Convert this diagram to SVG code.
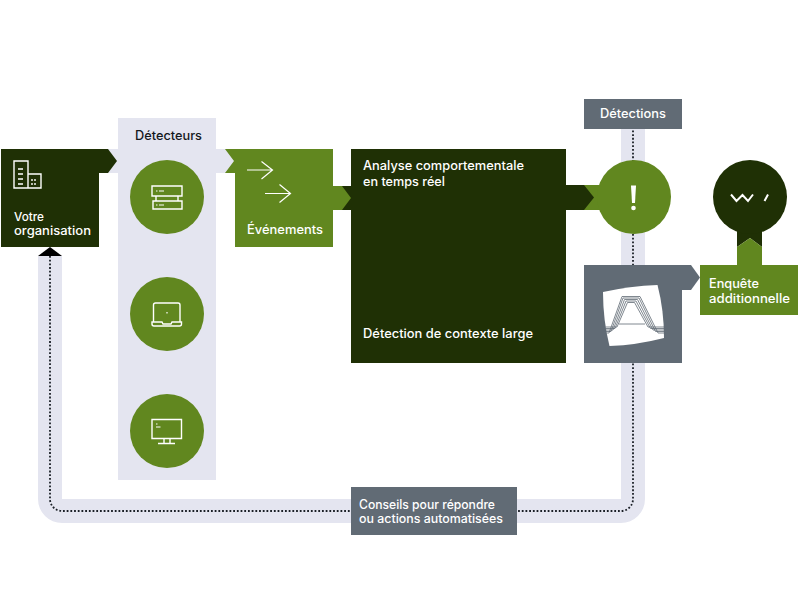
<svg xmlns="http://www.w3.org/2000/svg" width="800" height="603" viewBox="0 0 800 603">
<style>
.t{font-family:"Inter","Open Sans","Liberation Sans",sans-serif;font-weight:500;font-size:12.5px;fill:#fff}
.d{fill:#1f3005}.g{fill:#61871f}.s{fill:#616b75}.l{fill:#e4e5f0}
.i{fill:none;stroke:#fff;stroke-width:1.4}
.a{fill:none;stroke:#5f6973;stroke-width:.8}
.dot{fill:none;stroke:#1a1f26;stroke-width:1.8;stroke-dasharray:1.8 1.9}
</style>
<rect width="800" height="603" fill="#fff"/>
<g id="connectors">
<path class="l" d="M38 256H62V499H621V129H645V499A24 24 0 0 1 621 523H62A24 24 0 0 1 38 499Z"/>
<path class="dot" d="M50 256V499A12 12 0 0 0 62 511H621A12 12 0 0 0 633 499V129"/>
<path d="M50 247L62 256H38Z" fill="#000"/>
<rect class="l" x="108" y="149" width="126" height="24"/>
<path class="d" d="M99 149H108L117 161L108 173H99Z"/>
<path class="g" d="M225 149H235V173H225L234 161Z"/>
<path class="d" d="M342 186H352V210H342Z"/>
<path class="g" d="M333 186H342L351 198L342 210H333Z"/>
<path class="g" d="M584 185H600V210H584Z"/>
<path class="d" d="M566 185H584L594 197.500L584 210H566Z"/>
<path class="s" d="M682 265H691L700 277.500L691 290H682Z"/>
<path class="d" d="M737 225H762V247L750 238L737 247Z"/>
<path class="g" d="M737 247L750 238L762 247V266H737Z"/>
</g>
<g id="detecteurs">
<rect class="l" x="118" y="118" width="98" height="362"/>
<text class="t" x="135" y="140" style="fill:#14181c" textLength="67" lengthAdjust="spacingAndGlyphs">Détecteurs</text>
</g>
<g id="organisation">
<rect class="d" x="1" y="149" width="98" height="98"/>
<path class="i" d="M14 161H28V188H14ZM28 174H41V188H28ZM18 169H23M18 174H23M18 179H23M18 184H23M32 179V181M35 179V181M32 183V185M35 183V185"/>
<text class="t" x="14" y="220.500" textLength="30" lengthAdjust="spacingAndGlyphs" style="font-size:12px">Votre</text>
<text class="t" x="14" y="235" textLength="77" lengthAdjust="spacingAndGlyphs" style="font-size:12px">organisation</text>
</g>
<g id="serveurs">
<circle class="g" cx="167" cy="197" r="37"/>
<path class="i" d="M152 186H182V196H152ZM153 201H182V209H153ZM156 196V201M178 196V201"/>
<path d="M156 191H157.500M159 191H164M156 205H157.500M159 205H164" stroke="#fff" fill="none"/>
</g>
<g id="portable">
<circle class="g" cx="167" cy="314" r="37"/>
<path class="i" d="M153.500 322V305Q153.500 303 155.500 303H178Q180 303 180 305V322"/>
<path class="i" d="M152 322H162L163 324H171L172 322H181.500V324Q181.500 326 179.500 326H154Q152 326 152 324Z"/>
<rect x="166.400" y="312" width="1.200" height="1.500" fill="#fff"/>
</g>
<g id="ecran">
<circle class="g" cx="167" cy="431" r="37"/>
<path class="i" d="M152 419.500H181.500V438.500H152ZM164 438.500V443M170 438.500V443M158 443.500H175"/>
<path d="M156 424H157.500M156 427H160.500" stroke="#fff" fill="none"/>
</g>
<g id="evenements">
<rect class="g" x="235" y="149" width="98" height="98"/>
<path d="M247 170H272.500M261.500 161.500L272.500 170L261.500 179M265 193.500H290.500M279.500 184.500L290.500 193.500L279.500 202.500" fill="none" stroke="#fff" stroke-width="1.200"/>
<text class="t" x="247" y="234" textLength="76" lengthAdjust="spacingAndGlyphs">Événements</text>
</g>
<g id="analyse">
<rect class="d" x="351" y="149" width="215" height="214"/>
<text class="t" x="363" y="170" textLength="161" lengthAdjust="spacingAndGlyphs">Analyse comportementale</text>
<text class="t" x="363" y="186" textLength="82" lengthAdjust="spacingAndGlyphs">en temps réel</text>
<text class="t" x="363" y="338" textLength="170" lengthAdjust="spacingAndGlyphs">Détection de contexte large</text>
</g>
<g id="detections">
<rect class="s" x="584" y="99" width="98" height="30"/>
<text class="t" x="600" y="118" textLength="66" lengthAdjust="spacingAndGlyphs">Détections</text>
</g>
<g id="alerte">
<circle class="g" cx="634" cy="197" r="37"/>
<path d="M631 185.500H636L635 203H632Z" fill="#fff"/>
<circle cx="633.500" cy="208" r="2.300" fill="#fff"/>
</g>
<g id="analyste">
<circle class="d" cx="750" cy="197" r="37"/>
<path d="M731 194.500L736.500 201L742.500 195L748 201L753 194.500M768 194.500L764.500 201" fill="none" stroke="#fff" stroke-width="2"/>
</g>
<g id="enquete">
<rect class="g" x="700" y="265" width="98" height="50"/>
<text class="t" x="709" y="288" textLength="50" lengthAdjust="spacingAndGlyphs">Enquête</text>
<text class="t" x="709" y="303" textLength="81" lengthAdjust="spacingAndGlyphs">additionnelle</text>
</g>
<g id="plateforme">
<rect class="s" x="584" y="265" width="98" height="98"/>
<path d="M603 292Q630 286 657.500 285Q664 310 664 338Q637 345 609.500 346Q603 320 603 292Z" fill="#fff"/>
<path class="a" d="M605.500 333H609L622 296.500H640L658 333H664M605.500 331.500H611L623 298H639L655.500 331.500H664M605.500 330H613L624.500 299.500H637.500L653 330H664M605.500 328.500H615L626 301H636L650.500 328.500H664M605.500 327H617L627.500 302.500H634.500L648 327H664"/>
<path class="a" d="M619 324H645"/>
</g>
<g id="conseils">
<rect class="s" x="351" y="487" width="166" height="48"/>
<text class="t" x="359" y="509" textLength="136" lengthAdjust="spacingAndGlyphs">Conseils pour répondre</text>
<text class="t" x="359" y="523" textLength="144" lengthAdjust="spacingAndGlyphs">ou actions automatisées</text>
</g>
</svg>
